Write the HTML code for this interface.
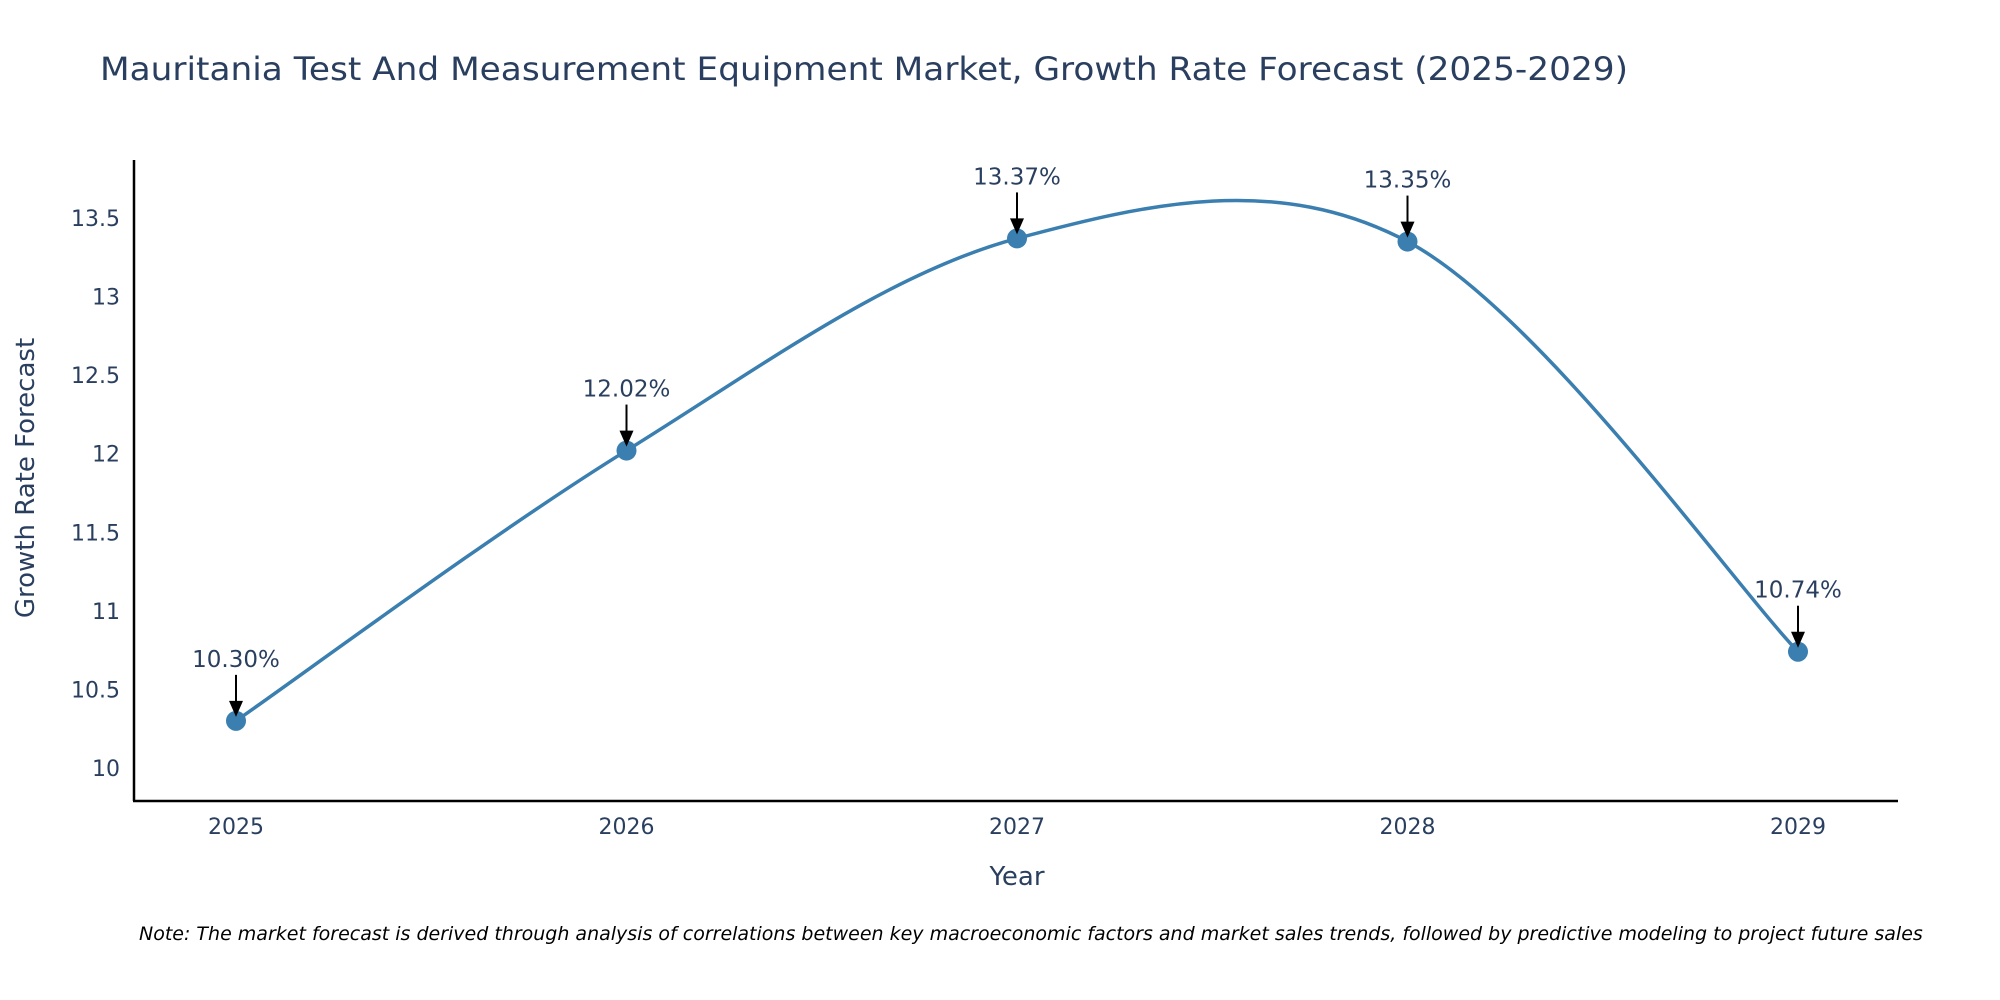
<!DOCTYPE html>
<html><head><meta charset="utf-8"><style>
html,body{margin:0;padding:0;background:#fff;}
svg{display:block;font-family:"DejaVu Sans","Liberation Sans",sans-serif;}
</style></head><body>
<svg id="chart" width="2000" height="1000" viewBox="0 0 2000 1000">
<text x="100" y="80" font-size="32" fill="#2a3f5f" textLength="1528" lengthAdjust="spacingAndGlyphs">Mauritania Test And Measurement Equipment Market, Growth Rate Forecast (2025-2029)</text>
<g id="yticks"></g>
<g id="xticks"></g>
<path id="line" fill="none" stroke="#3a7fb0" stroke-width="3.5"></path>
<g id="marks"></g>
<g id="annots"></g>
<line x1="134" y1="160" x2="134" y2="801" stroke="#000" stroke-width="2.5"/>
<line x1="133" y1="801" x2="1898" y2="801" stroke="#000" stroke-width="2.5"/>
<text x="1017" y="885" font-size="26" fill="#2a3f5f" text-anchor="middle">Year</text>
<text transform="translate(34,478) rotate(-90)" font-size="26" fill="#2a3f5f" text-anchor="middle">Growth Rate Forecast</text>
<text x="139" y="940" font-size="19" font-style="italic" fill="#000">Note: The market forecast is derived through analysis of correlations between key macroeconomic factors and market sales trends, followed by predictive modeling to project future sales</text>
</svg>
<script>
const years = [2025, 2026, 2027, 2028, 2029];
const values = [10.30, 12.02, 13.37, 13.35, 10.74];
const labels = ["10.30%", "12.02%", "13.37%", "13.35%", "10.74%"];
const yTicks = [10, 10.5, 11, 11.5, 12, 12.5, 13, 13.5];
const yTickLabels = ["10", "10.5", "11", "11.5", "12", "12.5", "13", "13.5"];

const NS = "http://www.w3.org/2000/svg";
function xs(v){ return 236 + (v - 2025) * (1798 - 236) / 4; }
function ys(v){ return 768 - (v - 10) * (768 - 218) / 3.5; }
function mk(tag, attrs, parent){ const e=document.createElementNS(NS,tag); for(const k in attrs) e.setAttribute(k,attrs[k]); parent.appendChild(e); return e; }

const yg=document.getElementById('yticks');
yTicks.forEach((t,i)=>{
  const e=mk('text',{x:120,y:ys(t)+8,'font-size':22,fill:'#2a3f5f','text-anchor':'end'},yg);
  
  
  e.textContent=yTickLabels[i];
});
const xg=document.getElementById('xticks');
years.forEach(y=>{
  const e=mk('text',{x:xs(y),y:834,'font-size':22,fill:'#2a3f5f','text-anchor':'middle'},xg);
  
  
  e.textContent=String(y);
});

const pts=years.map((y,i)=>[xs(y),ys(values[i])]);
let d='M'+pts[0][0]+','+pts[0][1];
for(let i=0;i<pts.length-1;i++){
  const p0=pts[Math.max(0,i-1)],p1=pts[i],p2=pts[i+1],p3=pts[Math.min(pts.length-1,i+2)];
  const c1=[p1[0]+(p2[0]-p0[0])/6,p1[1]+(p2[1]-p0[1])/6];
  const c2=[p2[0]-(p3[0]-p1[0])/6,p2[1]-(p3[1]-p1[1])/6];
  d+=' C'+c1[0]+','+c1[1]+' '+c2[0]+','+c2[1]+' '+p2[0]+','+p2[1];
}
document.getElementById('line').setAttribute('d',d);

const mg=document.getElementById('marks'), ag=document.getElementById('annots');
pts.forEach((p,i)=>{
  const c=mk('circle',{cx:p[0],cy:p[1],r:10,fill:'#3a7fb0'},mg);
  
  
  const l=mk('line',{x1:p[0],y1:p[1]-46,x2:p[0],y2:p[1]-16,stroke:'#000','stroke-width':2},ag);
  
  
  const h=mk('polygon',{points:(p[0]-7)+','+(p[1]-20)+' '+(p[0]+7)+','+(p[1]-20)+' '+p[0]+','+(p[1]-4),fill:'#000'},ag);
  
  
  const t=mk('text',{x:p[0],y:p[1]-54,'font-size':23,fill:'#2a3f5f','text-anchor':'middle'},ag);
  
  
  t.textContent=labels[i];
});
</script>
</body></html>
